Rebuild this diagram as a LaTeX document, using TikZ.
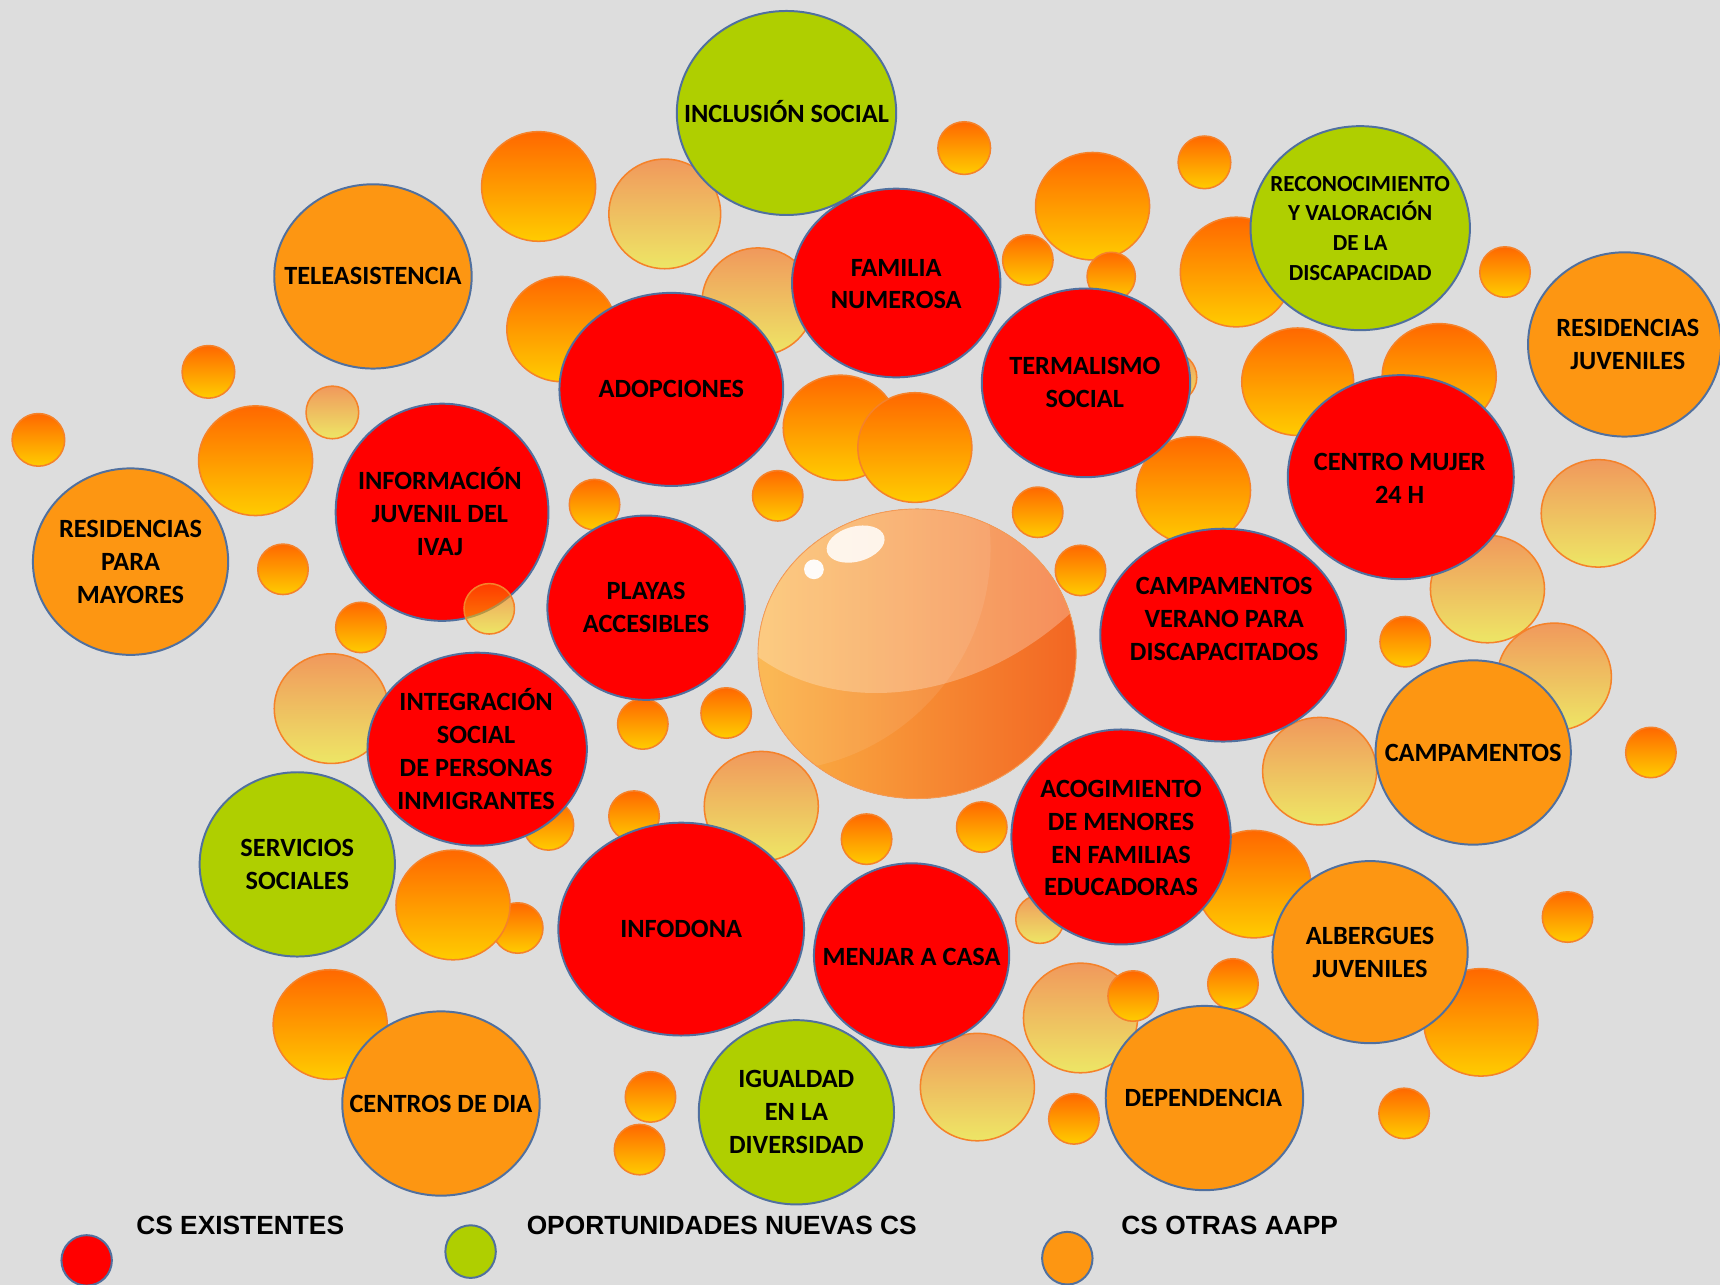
\documentclass[tikz,border=0pt]{standalone}
\usepackage{fontspec}
\setmainfont{Carlito}
\newfontfamily\legfont{Liberation Sans}
\definecolor{bg}{HTML}{DDDDDD}
\definecolor{cred}{HTML}{FF0000}
\definecolor{cgreen}{HTML}{AFCF00}
\definecolor{corange}{HTML}{FD9612}
\definecolor{edgeblue}{HTML}{50709F}
\definecolor{btop}{HTML}{FF6800}
\definecolor{bbot}{HTML}{FFCC00}
\definecolor{pbot}{HTML}{FAEE10}
\definecolor{bedge}{HTML}{F5822A}
\definecolor{sphL}{HTML}{FBB446}
\definecolor{sphR}{HTML}{F26522}
\newcommand\bubN[4]{\path[bub] (#1,#2) ellipse [x radius=#3, y radius=#4];}
\newcommand\bubP[4]{\path[pale] (#1,#2) ellipse [x radius=#3, y radius=#4];}
\tikzset{
 bub/.style={top color=btop, bottom color=bbot, draw=bedge, line width=0.7pt},
 pale/.style={top color=btop, bottom color=pbot, draw=bedge, line width=0.7pt, fill opacity=0.58},
 lab/.style={draw=edgeblue, line width=0.9pt},
 txt/.style={font=\bfseries\fontsize{12}{15}\selectfont, align=center, inner sep=0pt},
 leg/.style={font=\legfont\bfseries\fontsize{12}{14}\selectfont, inner sep=0pt},
}
\begin{document}
\begin{tikzpicture}[x=0.5pt,y=-0.5pt]
\fill[bg] (0,0) rectangle (1568,1171);
\useasboundingbox (0,0) rectangle (1568,1171);

% ---------- background bubbles ----------
\bubN{491}{170}{52}{50}
\bubP{606}{195}{51}{50}
\bubN{879}{135}{24}{24}
\bubN{996}{188}{52}{49}
\bubN{1098}{148}{24}{24}
\bubN{937}{237}{23}{23}
\bubN{1013}{252}{22}{22}
\bubN{1127}{248}{51}{50}
\bubN{1372}{248}{23}{23}
\bubP{691}{275}{51}{49}
\bubN{512}{300}{50}{48}
\bubN{190}{339}{24}{24}
\bubP{303}{376}{24}{24}
\bubN{35}{401}{24}{24}
\bubN{233}{420}{52}{50}
\bubN{766}{390}{52}{48}
\bubN{834}{408}{52}{50}
\bubN{1183}{348}{51}{49}
\bubN{1312}{343}{52}{48}
\bubP{1068}{344}{23}{23}
\bubN{1088}{447}{52}{49}
\bubN{709}{452}{23}{23}
\bubN{542}{460}{23}{23}
\bubN{946}{467}{23}{23}
\bubP{1457}{468}{52}{49}
\bubN{258}{519}{23}{23}
\bubN{985}{520}{23}{23}
\bubP{1356}{537}{52}{49}
\bubN{329}{572}{23}{23}
\bubN{1281}{585}{23}{23}
\bubP{1417}{617}{52}{49}
\bubP{302}{646}{52}{50}
\bubN{586}{660}{23}{23}
\bubN{662}{650}{23}{23}
\bubP{1203}{703}{52}{49}
\bubN{1505}{686}{23}{23}
\bubP{694}{735}{52}{50}
\bubN{578}{744}{23}{23}
\bubN{500}{752}{23}{23}
\bubN{790}{765}{23}{23}
\bubN{895}{754}{23}{23}
\bubN{472}{846}{23}{23}
\bubN{413}{825}{52}{50}
\bubN{1143}{806}{52}{49}
\bubP{948}{838}{22}{22}
\bubN{1429}{836}{23}{23}
\bubN{1124}{897}{23}{23}
\bubN{1350}{932}{52}{49}
\bubN{301}{934}{52}{50}
\bubP{985}{928}{52}{50}
\bubN{1033}{908}{23}{23}
\bubP{891}{991}{52}{49}
\bubN{593}{1000}{23}{23}
\bubN{583}{1048}{23}{23}
\bubN{979}{1020}{23}{23}
\bubN{1280}{1015}{23}{23}

% ---------- central sphere ----------
\begin{scope}
 \path[clip] (836,596) ellipse [x radius=145, y radius=132];
 \fill[left color=sphL, right color=sphR] (688,460) rectangle (984,732);
 \fill[white, opacity=0.09] (700,500) circle [radius=203];
 \fill[white, opacity=0.26] (680,590) .. controls (760,660) and (900,640) .. (990,545) -- (990,450) -- (680,450) -- cycle;
\end{scope}
\draw[draw=bedge!80, line width=0.4pt] (836,596) ellipse [x radius=145, y radius=132];
\fill[white, opacity=0.85, rotate around={15:(780,496)}] (780,496) ellipse [x radius=27, y radius=16];
\fill[white, opacity=0.95] (742,519) circle [radius=9];

% ---------- labelled circles ----------
\path[lab, fill=cgreen] (717,103) ellipse [x radius=100, y radius=93];
\path[lab, fill=corange] (340,252) ellipse [x radius=90, y radius=84];
\path[lab, fill=cred] (817,258) ellipse [x radius=95, y radius=86];
\path[lab, fill=cgreen] (1240,208) ellipse [x radius=100, y radius=93];
\path[lab, fill=corange] (1481,314) ellipse [x radius=88, y radius=84];
\path[lab, fill=cred] (612,355) ellipse [x radius=102, y radius=88];
\path[lab, fill=cred] (990,349) ellipse [x radius=95, y radius=86];
\path[lab, fill=cred] (1277,435) ellipse [x radius=103, y radius=93];
\path[lab, fill=cred] (403,467) ellipse [x radius=97, y radius=99];
\path[lab, fill=corange] (119,512) ellipse [x radius=89, y radius=85];
\path[lab, fill=cred] (589,554) ellipse [x radius=90, y radius=84];
\path[lab, fill=cred] (1115,579) ellipse [x radius=112, y radius=97];
\path[lab, fill=cred] (435,683) ellipse [x radius=100, y radius=88];
\path[lab, fill=corange] (1343,686) ellipse [x radius=89, y radius=84];
\path[lab, fill=cgreen] (271,788) ellipse [x radius=89, y radius=84];
\path[lab, fill=cred] (1022,763) ellipse [x radius=100, y radius=98];
\path[lab, fill=cred] (621,847) ellipse [x radius=112, y radius=97];
\path[lab, fill=cred] (831,871) ellipse [x radius=89, y radius=84];
\path[lab, fill=corange] (1249,868) ellipse [x radius=89, y radius=83];
\path[lab, fill=corange] (402,1006) ellipse [x radius=90, y radius=84];
\path[lab, fill=cgreen] (726,1014) ellipse [x radius=89, y radius=84];
\path[lab, fill=corange] (1098,1001) ellipse [x radius=90, y radius=84];

\bubP{446}{555}{23}{23}

% ---------- texts ----------
\node[txt] (tIncl) at (717,102) {INCLUSIÓN SOCIAL};
\node[txt] (tTele) at (340,252) {TELEASISTENCIA};
\node[txt] (tFam) at (817,259) {FAMILIA\\NUMEROSA};
\node[txt, font=\bfseries\fontsize{10.5}{13.5}\selectfont] (tRec) at (1240,208) {RECONOCIMIENTO\\Y VALORACIÓN\\DE LA\\DISCAPACIDAD};
\node[txt] (tResJ) at (1484,314) {RESIDENCIAS\\JUVENILES};
\node[txt] (tAdop) at (612,355) {ADOPCIONES};
\node[txt] (tTerm) at (989,349) {TERMALISMO\\SOCIAL};
\node[txt] (tMuj) at (1276,436) {CENTRO MUJER\\24 H};
\node[txt] (tIvaj) at (401,466) {INFORMACIÓN\\JUVENIL DEL\\IVAJ};
\node[txt] (tResM) at (119,512) {RESIDENCIAS\\PARA\\MAYORES};
\node[txt] (tPlay) at (589,554) {PLAYAS\\ACCESIBLES};
\node[txt] (tVer) at (1116,564) {CAMPAMENTOS\\VERANO PARA\\DISCAPACITADOS};
\node[txt] (tInt) at (434,683) {INTEGRACIÓN\\SOCIAL\\DE PERSONAS\\INMIGRANTES};
\node[txt] (tCamp) at (1343,686) {CAMPAMENTOS};
\node[txt] (tServ) at (271,788) {SERVICIOS\\SOCIALES};
\node[txt] (tAcog) at (1022,764) {ACOGIMIENTO\\DE MENORES\\EN FAMILIAS\\EDUCADORAS};
\node[txt] (tInfo) at (621,847) {INFODONA};
\node[txt] (tMenj) at (831,872) {MENJAR A CASA};
\node[txt] (tAlb) at (1249,868) {ALBERGUES\\JUVENILES};
\node[txt] (tCDia) at (402,1006) {CENTROS DE DIA};
\node[txt] (tIgu) at (726,1014) {IGUALDAD\\EN LA\\DIVERSIDAD};
\node[txt] (tDep) at (1097,1001) {DEPENDENCIA};

% ---------- legend ----------
\path[lab, fill=cred] (79,1149) ellipse [x radius=23, y radius=23];
\path[lab, fill=cgreen] (429,1141) ellipse [x radius=23, y radius=24];
\path[lab, fill=corange] (973,1147) ellipse [x radius=23, y radius=24];
\node[leg] (lEx) at (219,1117) {CS EXISTENTES};
\node[leg] (lNu) at (658,1117) {OPORTUNIDADES NUEVAS CS};
\node[leg] (lOt) at (1121,1117) {CS OTRAS AAPP};
\end{tikzpicture}
\end{document}
